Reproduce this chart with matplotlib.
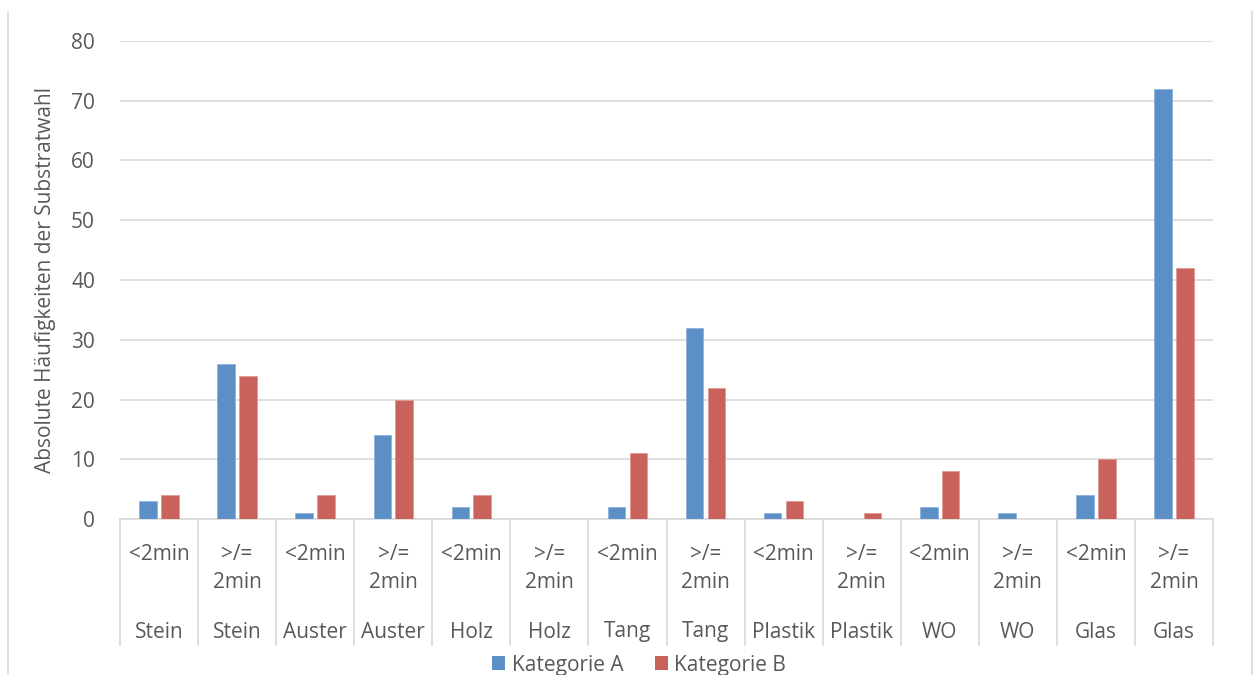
import matplotlib
matplotlib.use("Agg")
import matplotlib.pyplot as plt
from matplotlib.patches import Patch
import numpy as np

plt.rcParams['font.family'] = ['Open Sans', 'DejaVu Sans']

substrates = ["Stein", "Stein", "Auster", "Auster", "Holz", "Holz", "Tang", "Tang",
              "Plastik", "Plastik", "WO", "WO", "Glas", "Glas"]
durations = ["<2min", ">/=\n2min"] * 7
kategorie_a = [3, 26, 1, 14, 2, 0, 2, 32, 1, 0, 2, 1, 4, 72]
kategorie_b = [4, 24, 4, 20, 4, 0, 11, 22, 3, 1, 8, 0, 10, 42]
series_names = ["Kategorie A", "Kategorie B"]
yticks = [0, 10, 20, 30, 40, 50, 60, 70, 80]

blue = "#5B8FC6"
red = "#C9625A"
text_gray = "#595959"
line_gray = "#D9D9D9"
fs = 15

W, H = 1257, 675
fig = plt.figure(figsize=(W / 100, H / 100), dpi=100)
ax = fig.add_axes([120 / W, (H - 519) / H, (1213 - 120) / W, (519 - 41) / H])

x = np.arange(len(substrates))
bw = 0.225
ax.bar(x - 0.14, kategorie_a, bw, color=blue, edgecolor="#8CB2DC", linewidth=0.6, zorder=3)
ax.bar(x + 0.14, kategorie_b, bw, color=red, edgecolor="#E09A94", linewidth=0.6, zorder=3)

ax.set_xlim(-0.5, len(substrates) - 0.5)
ax.set_ylim(0, 80)
ax.set_yticks(yticks)
ax.yaxis.grid(True, color=line_gray, linewidth=1.2, zorder=0)
ax.set_axisbelow(True)
ax.set_xticks([])
ax.tick_params(axis="y", length=0, pad=18, labelsize=fs, labelcolor=text_gray)
for side in ("top", "right", "left"):
    ax.spines[side].set_visible(False)
ax.spines["bottom"].set_color(line_gray)
ax.spines["bottom"].set_linewidth(1.2)

# Two-level category labels below the axis
trans = ax.get_xaxis_transform()
ax_h = 519 - 41
row_px = [555, 582]
for i, (dur, sub) in enumerate(zip(durations, substrates)):
    for line, ypx in zip(dur.split("\n"), row_px):
        ax.text(i, -(ypx - 519) / ax_h, line, transform=trans, ha="center", va="center",
                fontsize=fs, color=text_gray)
    ax.text(i, -(632 - 519) / ax_h, sub, transform=trans, ha="center", va="center",
            fontsize=fs, color=text_gray)
for b in np.arange(-0.5, len(substrates), 1.0):
    ax.plot([b, b], [0, -(645 - 519) / ax_h], transform=trans, color=line_gray,
            linewidth=1.2, clip_on=False)

fig.text(46 / W, 1 - 280 / H, "Absolute Häufigkeiten der Substratwahl", rotation=90,
         ha="center", va="center", fontsize=fs, color=text_gray)

# Chart frame edges
fig.add_artist(plt.Line2D([8 / W, 8 / W], [0, 1 - 12 / H], transform=fig.transFigure,
                          color=line_gray, linewidth=1.2))
fig.add_artist(plt.Line2D([1252 / W, 1252 / W], [0, 1 - 12 / H], transform=fig.transFigure,
                          color=line_gray, linewidth=1.2))

handles = [Patch(facecolor=blue, label=series_names[0]),
           Patch(facecolor=red, label=series_names[1])]
fig.legend(handles=handles, loc="center", bbox_to_anchor=(639 / W, 1 - 665 / H), ncol=2,
           frameon=False, fontsize=fs, labelcolor=text_gray, handlelength=0.65,
           handleheight=0.65, handletextpad=0.3, columnspacing=1.5, borderpad=0)

fig.savefig("out.png", dpi=100, facecolor="white")
